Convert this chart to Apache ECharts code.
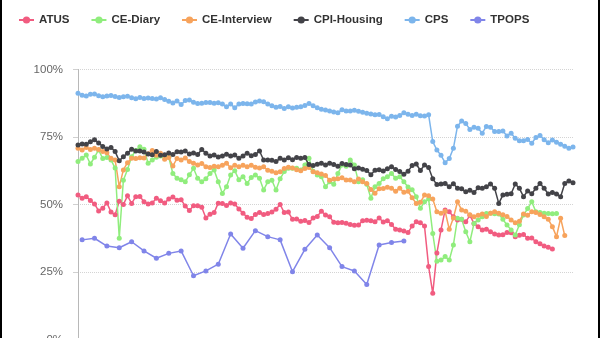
<!DOCTYPE html>
<html>
<head>
<meta charset="utf-8">
<script src="https://cdn.jsdelivr.net/npm/echarts@6/dist/echarts.min.js"></script>
<style>
  html, body { margin: 0; padding: 0; width: 600px; height: 338px; overflow: hidden; background: #fff; }
  #chart { position: absolute; left: 0; top: 0; width: 600px; height: 400px; }
  .edge { position: absolute; top: 0; width: 2px; height: 338px; background: #000; z-index: 5; }
</style>
</head>
<body>
<div id="chart"></div>
<div class="edge" style="left:0"></div>
<div class="edge" style="right:0"></div>
<script>
// Monthly periods on the shared x axis
const periodCount = 121;
const periods = Array.from({ length: periodCount }, (_, i) => 'P' + (i + 1));

// Response rates (%) by survey
const atus = [
  53.5, 52.3, 52.9, 51.5, 50.2, 47.6, 48.6, 50.6, 47.2, 46.2,
  51.2, 50.0, 53.2, 50.4, 52.9, 53.0, 51.0, 50.2, 50.6, 52.3,
  51.4, 50.6, 52.0, 52.8, 51.6, 51.8, 49.4, 47.8, 49.5, 49.5,
  49.0, 45.0, 46.4, 47.0, 50.5, 50.4, 49.6, 50.6, 50.2, 48.3,
  46.8, 45.3, 44.8, 46.3, 47.0, 46.3, 46.7, 47.2, 48.2, 50.0,
  47.0, 47.2, 44.5, 44.6, 43.8, 44.1, 43.3, 45.0, 45.6, 47.5,
  46.1, 45.5, 43.4, 43.2, 43.3, 43.1, 42.6, 42.3, 42.4, 44.0,
  44.2, 44.0, 43.6, 45.0, 43.5, 44.0, 42.6, 40.8, 40.6, 40.2,
  39.6, 42.0, 43.6, 43.2, 42.0, 27.0, 17.1, 32.0, 40.6, 48.0,
  47.3, 45.5, 44.3, 44.5, 43.6, 46.0, 43.0, 41.8, 40.6, 40.8,
  39.9, 39.1, 38.7, 38.8, 39.6, 39.5, 38.1, 38.6, 38.9, 37.5,
  37.6, 36.2, 35.5, 34.6, 34.2, 33.5, null, null, null, null,
  null
];

const ceDiary = [
  65.9, 67.1, 68.3, 65.0, 67.5, 70.2, 67.0, 67.4, 66.5, 63.5,
  37.5, 59.0, 63.0, 67.7, 70.0, 71.4, 70.5, 65.3, 66.5, 67.5,
  68.0, 67.7, 67.5, 61.5, 59.7, 59.2, 58.4, 61.0, 63.4, 59.7,
  58.4, 59.5, 61.5, 62.8, 58.4, 54.1, 56.6, 60.9, 62.5, 59.2,
  60.3, 57.8, 60.0, 60.9, 59.7, 55.4, 58.4, 59.0, 55.4, 59.5,
  62.2, 63.4, 63.4, 63.4, 62.8, 64.6, 67.1, 62.3, 60.9, 60.3,
  56.6, 58.4, 57.5, 61.5, 64.6, 64.2, 66.5, 64.6, 58.4, 59.2,
  57.5, 52.3, 56.6, 57.8, 59.5, 60.3, 61.5, 59.7, 60.3, 58.4,
  56.5, 55.5, 52.9, 48.6, 51.0, 52.0, 39.3, 29.0, 29.4, 30.7,
  29.4, 35.0, 44.9, 44.5, 39.9, 36.2, 43.0, 44.3, 45.5, 46.7,
  46.8, 46.6, 46.5, 44.5, 42.4, 40.6, 38.7, 42.5, 46.1, 48.5,
  51.0, 47.3, 47.0, 46.8, 46.7, 46.6, 46.7, null, null, null,
  null
];

const ceInterview = [
  70.8, 70.2, 71.1, 70.4, 70.8, 70.4, 69.6, 69.2, 67.1, 66.5,
  56.6, 62.8, 65.5, 67.1, 67.0, 67.3, 67.2, 68.8, 70.0, 68.2,
  69.0, 66.8, 67.4, 64.3, 67.0, 66.5, 67.2, 65.9, 65.3, 64.6,
  65.2, 64.0, 63.7, 64.2, 64.0, 64.5, 65.3, 63.6, 64.5, 64.0,
  64.5, 64.0, 64.5, 63.8, 63.5, 64.0, 62.7, 62.3, 61.8, 62.1,
  63.3, 63.8, 63.5, 62.9, 62.5, 63.3, 63.7, 62.1, 61.8, 61.3,
  60.7, 59.0, 59.4, 59.5, 59.9, 59.1, 59.1, 58.4, 59.4, 58.4,
  57.8, 55.6, 54.2, 55.8, 55.9, 56.4, 56.0, 54.9, 56.0, 54.5,
  54.9, 52.5, 50.4, 50.8, 53.5, 53.2, 52.0, 47.3, 46.8, 47.5,
  40.8, 45.0, 51.0, 48.0, 47.5, 46.2, 45.5, 46.0, 46.5, 45.6,
  46.8, 47.3, 46.8, 46.2, 45.6, 44.3, 43.2, 43.8, 46.5, 46.0,
  47.3, 47.0, 46.3, 45.5, 44.5, 41.8, 38.1, 44.9, 38.5, null,
  null
];

const cpiHousing = [
  72.0, 72.4, 72.3, 73.2, 74.0, 72.8, 71.5, 70.6, 71.1, 69.6,
  66.2, 67.7, 69.0, 70.5, 69.8, 69.8, 69.4, 68.7, 68.4, 69.6,
  68.2, 68.4, 69.1, 68.5, 69.5, 69.4, 69.8, 68.7, 69.1, 68.5,
  70.4, 69.0, 68.0, 68.3, 67.6, 68.0, 68.6, 68.0, 68.3, 67.1,
  68.0, 69.0, 68.1, 68.5, 69.8, 66.5, 66.5, 66.4, 65.9, 67.1,
  66.5, 67.3, 66.6, 67.4, 67.1, 67.4, 64.8, 64.4, 64.9, 65.3,
  64.6, 65.3, 64.8, 64.2, 65.2, 64.8, 64.6, 63.2, 63.5, 63.1,
  62.6, 61.0, 62.7, 62.9, 62.4, 63.2, 64.0, 63.0, 62.2, 61.2,
  62.3, 64.4, 65.0, 62.6, 64.6, 63.7, 59.5, 57.4, 57.6, 57.8,
  56.6, 57.7, 56.0, 55.8, 54.7, 55.3, 54.4, 56.2, 56.0, 56.6,
  57.6, 56.0, 50.4, 53.5, 53.8, 54.0, 57.6, 56.0, 52.9, 55.0,
  54.0, 56.0, 57.8, 56.0, 53.9, 54.4, 53.9, 52.9, 57.8, 58.7,
  58.1
];

const cps = [
  91.2, 90.5, 90.2, 90.8, 90.9, 90.3, 89.9, 90.2, 90.4, 90.0,
  89.6, 89.9, 90.1, 89.5, 89.2, 89.6, 89.3, 89.4, 89.3, 89.1,
  89.5, 88.9, 88.2, 87.6, 88.3, 87.0, 88.5, 88.7, 87.9, 87.4,
  87.5, 87.8, 87.8, 87.5, 87.7, 87.2, 86.2, 87.2, 85.8, 87.2,
  87.4, 87.3, 87.2, 88.0, 88.3, 88.1, 87.2, 86.6, 86.0, 86.3,
  85.6, 86.2, 85.7, 86.0, 86.2, 86.7, 87.4, 86.6, 85.8, 85.3,
  85.0, 84.6, 84.3, 84.0, 85.1, 84.6, 84.6, 84.9, 84.5, 84.2,
  83.8, 83.5, 83.2, 83.3, 82.5, 81.8, 82.7, 82.4, 83.0, 84.0,
  83.4, 83.0, 83.4, 82.9, 82.8, 83.2, 73.3, 70.2, 68.2, 65.5,
  67.0, 70.8, 79.0, 80.9, 80.0, 77.8, 78.6, 78.2, 76.4, 78.9,
  78.6, 77.0, 77.0, 77.2, 75.4, 76.4, 74.5, 73.6, 73.6, 74.1,
  72.7, 74.8, 75.6, 74.0, 72.9, 73.9, 73.1, 72.3, 71.6, 70.8,
  71.3
];

// TPOPS is quarterly: one value every third period, starting at the second
const tpopsStart = 1;
const tpopsStep = 3;
const tpops = [
  36.9, 37.5, 34.6, 34.0, 36.2, 32.8, 30.1, 31.9, 32.8, 23.6,
  25.4, 27.9, 39.1, 33.8, 40.3, 38.1, 36.9, 25.1, 33.4, 38.7,
  34.0, 27.0, 25.4, 20.4, 35.0, 35.9, 36.5
];

const yTicks = [0, 25, 50, 75, 100];

const tpopsMonthly = new Array(periodCount).fill(null);
tpops.forEach((v, k) => { tpopsMonthly[tpopsStart + k * tpopsStep] = v; });

const palette = {
  'ATUS': '#f15c80',
  'CE-Diary': '#90ed7d',
  'CE-Interview': '#f7a35c',
  'CPI-Housing': '#434348',
  'CPS': '#7cb5ec',
  'TPOPS': '#8085e9'
};

function lineSeries(name, data) {
  return {
    name: name,
    type: 'line',
    data: data,
    connectNulls: name === 'TPOPS',
    symbol: 'circle',
    symbolSize: 5,
    showSymbol: true,
    showAllSymbol: true,
    color: palette[name],
    lineStyle: { width: 1.5, color: palette[name] },
    itemStyle: { color: palette[name] },
    emphasis: { disabled: true }
  };
}

const chart = echarts.init(document.getElementById('chart'), null, { renderer: 'canvas' });
chart.setOption({
  animation: false,
  backgroundColor: '#ffffff',
  textStyle: { fontFamily: 'Liberation Sans, Arial, sans-serif' },
  legend: {
    left: 18,
    top: 14,
    padding: 0,
    itemWidth: 15,
    itemHeight: 9,
    itemGap: 21,
    textStyle: { fontSize: 11.5, fontWeight: 'bold', color: '#333333' },
    data: ['ATUS', 'CE-Diary', 'CE-Interview', 'CPI-Housing', 'CPS', 'TPOPS']
  },
  grid: { left: 78, right: 27, top: 69.5, bottom: 60.5, containLabel: false },
  xAxis: {
    type: 'category',
    data: periods,
    boundaryGap: false,
    axisLine: { show: true, lineStyle: { color: '#c0c0c0' } },
    axisTick: { show: false },
    axisLabel: { show: false },
    splitLine: { show: false }
  },
  yAxis: {
    type: 'value',
    min: yTicks[0],
    max: yTicks[yTicks.length - 1],
    interval: 25,
    axisLine: { show: true, lineStyle: { color: '#b8b8b8', width: 1 } },
    axisTick: { show: true, length: 5, lineStyle: { color: '#d0d0d0' } },
    axisLabel: {
      margin: 15,
      color: '#666666',
      fontSize: 11.5,
      formatter: '{value}%'
    },
    splitLine: { show: true, lineStyle: { type: 'dotted', color: '#d4d4d4', width: 1 } }
  },
  series: [
    lineSeries('ATUS', atus),
    lineSeries('CE-Diary', ceDiary),
    lineSeries('CE-Interview', ceInterview),
    lineSeries('CPI-Housing', cpiHousing),
    lineSeries('CPS', cps),
    lineSeries('TPOPS', tpopsMonthly)
  ]
});
</script>
</body>
</html>
